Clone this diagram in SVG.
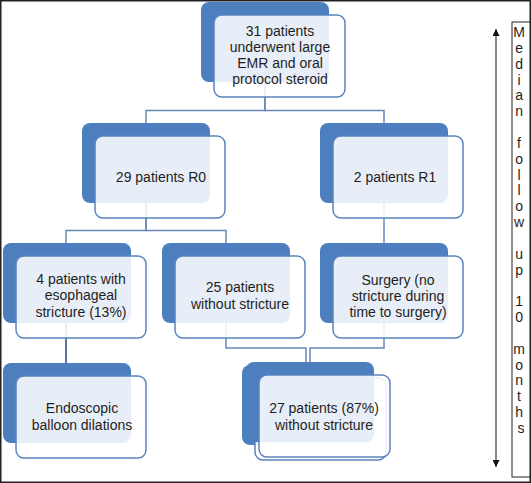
<svg xmlns="http://www.w3.org/2000/svg" width="531" height="483" viewBox="0 0 531 483">
<defs>
<style>
.back{fill:#4d7fbf;}
.front{fill:#ffffff;fill-opacity:0.87;stroke:#5a84c0;stroke-width:1.5;}
.conn{fill:none;stroke:#6787b8;stroke-width:1.5;}
.t{font-family:"Liberation Sans",Arial,sans-serif;font-size:14px;fill:#1e1e1e;text-anchor:middle;}
.v{font-family:"Liberation Sans",Arial,sans-serif;font-size:14px;fill:#1e1e1e;text-anchor:middle;}
</style>
<marker id="ah" viewBox="0 0 10 10" refX="10" refY="5" markerWidth="7" markerHeight="7" orient="auto-start-reverse" markerUnits="userSpaceOnUse">
<path d="M0,0 L10,5 L0,10 z" fill="#111"/>
</marker>
</defs>
<rect x="0.75" y="0.75" width="529.5" height="481.5" fill="#ffffff" stroke="#222" stroke-width="1.5"/>
<g id="connectors">
<path class="conn" d="M265 82 V110.5 H146 V123"/>
<path class="conn" d="M265 82 V110.5 H384 V123"/>
<path class="conn" d="M146 203 V230.5 H66 V243"/>
<path class="conn" d="M146 203 V230.5 H226 V243"/>
<path class="conn" d="M384 203 V243"/>
<path class="conn" d="M66 323 V363" style="stroke:#56779f;stroke-width:2"/>
<path class="conn" d="M226 323 V348 H306 V365"/>
<path class="conn" d="M384 323 V348 H310 V362"/>
</g>
<g id="n_top">
<rect class="back" x="201" y="2" width="128" height="80" rx="8"/>
<rect class="front" x="214" y="15" width="131" height="82" rx="8"/>
<text class="t" x="280" y="36">31 patients</text>
<text class="t" x="280" y="52">underwent large</text>
<text class="t" x="280" y="68">EMR and oral</text>
<text class="t" x="280" y="84">protocol steroid</text>
</g>
<g id="n_r0">
<rect class="back" x="82" y="123" width="128" height="80" rx="8"/>
<rect class="front" x="95" y="136" width="130" height="82" rx="8"/>
<text class="t" x="161" y="182">29 patients R0</text>
</g>
<g id="n_r1">
<rect class="back" x="320" y="123" width="128" height="80" rx="8"/>
<rect class="front" x="333" y="136" width="130" height="82" rx="8"/>
<text class="t" x="395" y="182">2 patients R1</text>
</g>
<g id="n_stricture">
<rect class="back" x="3" y="243" width="128" height="80" rx="8"/>
<rect class="front" x="16" y="256" width="130" height="82" rx="8"/>
<text class="t" x="81" y="284">4 patients with</text>
<text class="t" x="81" y="300">esophageal</text>
<text class="t" x="81" y="317">stricture (13%)</text>
</g>
<g id="n_nostricture">
<rect class="back" x="162" y="243" width="128" height="80" rx="8"/>
<rect class="front" x="175" y="256" width="130" height="82" rx="8"/>
<text class="t" x="240" y="292">25 patients</text>
<text class="t" x="240" y="309">without stricture</text>
</g>
<g id="n_surgery">
<rect class="back" x="320" y="243" width="128" height="80" rx="8"/>
<rect class="front" x="333" y="256" width="130" height="82" rx="8"/>
<text class="t" x="398" y="285">Surgery (no</text>
<text class="t" x="398" y="301">stricture during</text>
<text class="t" x="398" y="317">time to surgery)</text>
</g>
<g id="n_dilation">
<rect class="back" x="3" y="363" width="128" height="80" rx="8"/>
<rect class="front" x="16" y="376" width="130" height="82" rx="8"/>
<text class="t" x="82" y="413">Endoscopic</text>
<text class="t" x="82" y="430">balloon dilations</text>
</g>
<g id="n_total">
<rect class="back" x="242" y="365" width="128" height="80" rx="8"/>
<rect class="front" x="255" y="378" width="131" height="82" rx="8"/>
<rect class="back" x="246" y="362" width="128" height="80" rx="8"/>
<rect class="front" x="259" y="375" width="131" height="82" rx="8"/>
<text class="t" x="324" y="413">27 patients (87%)</text>
<text class="t" x="324" y="430">without stricture</text>
</g>
<g id="followup">
<line x1="496" y1="29" x2="496" y2="467" stroke="#111" stroke-width="1" marker-start="url(#ah)" marker-end="url(#ah)"/>
<rect x="512" y="22" width="18" height="455" fill="#ffffff" stroke="#222" stroke-width="1"/>
<text class="v">
<tspan x="521" y="37">M</tspan>
<tspan x="521" y="52.8">e</tspan>
<tspan x="521" y="68.7">d</tspan>
<tspan x="521" y="84.5">i</tspan>
<tspan x="521" y="100.4">a</tspan>
<tspan x="521" y="116.2">n</tspan>
<tspan x="521" y="147.9">f</tspan>
<tspan x="521" y="163.7">o</tspan>
<tspan x="521" y="179.6">l</tspan>
<tspan x="521" y="195.4">l</tspan>
<tspan x="521" y="211.2">o</tspan>
<tspan x="521" y="227.1">w</tspan>
<tspan x="521" y="258.8">u</tspan>
<tspan x="521" y="274.6">p</tspan>
<tspan x="521" y="306.3">1</tspan>
<tspan x="521" y="322.1">0</tspan>
<tspan x="521" y="353.8">m</tspan>
<tspan x="521" y="369.6">o</tspan>
<tspan x="521" y="385.4">n</tspan>
<tspan x="521" y="401.3">t</tspan>
<tspan x="521" y="417.1">h</tspan>
<tspan x="521" y="433">s</tspan>
</text>
</g>
</svg>
